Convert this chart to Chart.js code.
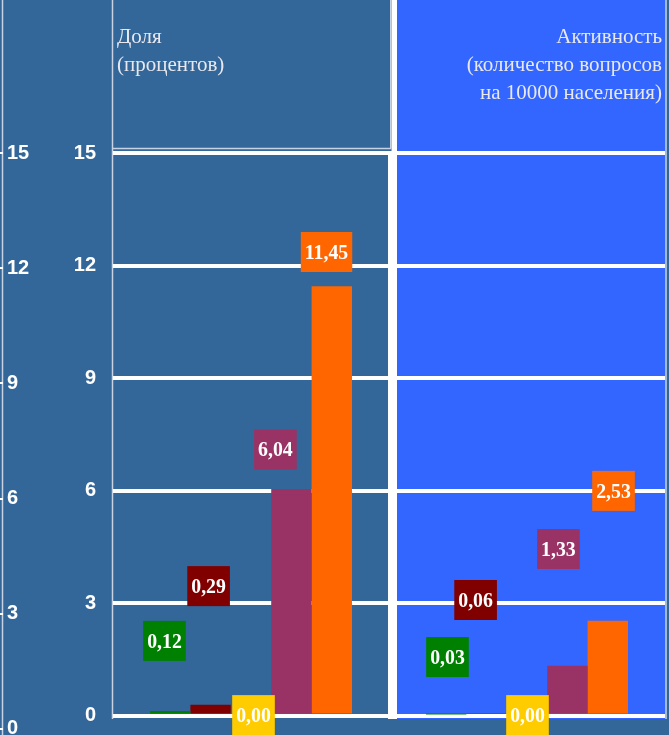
<!DOCTYPE html>
<html><head><meta charset="utf-8">
<script src="https://cdn.jsdelivr.net/npm/chart.js@4/dist/chart.umd.min.js"></script>
<style>html,body{margin:0;padding:0;background:#336699;overflow:hidden}#wrap{width:669px;height:735px}</style>
</head><body><div id="wrap"><canvas id="c" width="669" height="735"></canvas></div>
<script>
const categories = ['Доля', 'Активность'];
const seriesNames = ['Ряд 1', 'Ряд 2', 'Ряд 3', 'Ряд 4', 'Ряд 5'];
const series1 = [0.12, 0.03];
const series2 = [0.29, 0.06];
const series3 = [0.00, 0.00];
const series4 = [6.04, 1.33];
const series5 = [11.45, 2.53];
const yTicks = [0, 3, 6, 9, 12, 15];
const outerTicks = [0, 3, 6, 9, 12, 15];
const panelTitles = [['Доля', '(процентов)'], ['Активность', '(количество вопросов', 'на 10000 населения)']];

const seriesColors = ['#008000', '#800000', '#FFCC00', '#993366', '#FF6600'];
// value-label box placement: [x offset px from bar centre, centre height in axis units]
const labelPlacement = [
  [[-5.7, 1.99], [1.3, 1.56]],
  [[-2, 3.45], [-11, 3.08]],
  [[2.5, 0.01], [0.5, 0.01]],
  [[-16, 7.09], [-9, 4.44]],
  [[-5.3, 12.36], [5.7, 5.99]]
];

const fmt = v => v.toFixed(2).replace('.', ',');

const panelPlugin = {
  id: 'panels',
  beforeDraw(chart) {
    const ctx = chart.ctx, a = chart.chartArea, x = chart.scales.x;
    const mid = (x.getPixelForValue(0) + x.getPixelForValue(1)) / 2;
    const bottom = a.bottom + 3.5;
    ctx.save();
    ctx.fillStyle = '#336699';
    ctx.fillRect(0, 0, chart.width, chart.height);
    ctx.fillStyle = '#3366FF';
    ctx.fillRect(mid + 8, 0, a.right + 1 - (mid + 8), bottom);
    // divider
    ctx.fillStyle = '#FFFFFF';
    ctx.fillRect(mid - 1, a.top - 2, 9, bottom - a.top + 2);
    ctx.fillRect(mid + 2.5, 0, 5.5, a.top);
    // frame lines
    ctx.strokeStyle = '#C8D2E2';
    ctx.lineWidth = 1.5;
    ctx.beginPath();
    ctx.moveTo(a.left - 0.5, 0); ctx.lineTo(a.left - 0.5, bottom);
    ctx.moveTo(a.left, a.top - 4.5); ctx.lineTo(mid + 2, a.top - 4.5);
    ctx.moveTo(mid + 1.75, 0); ctx.lineTo(mid + 1.75, a.top - 4.5);
    ctx.moveTo(a.right + 1, 0); ctx.lineTo(a.right + 1, bottom);
    const o = chart.scales.yOuter;
    ctx.moveTo(o.right - 0.5, 0); ctx.lineTo(o.right - 0.5, chart.height);
    ctx.stroke();
    // titles
    ctx.fillStyle = '#E8E8EE';
    ctx.font = '21px "Liberation Serif"';
    ctx.textBaseline = 'alphabetic';
    const baselines = [42.5, 71, 99];
    ctx.textAlign = 'left';
    panelTitles[0].forEach((t, i) => ctx.fillText(t, a.left + 4, baselines[i]));
    ctx.textAlign = 'right';
    panelTitles[1].forEach((t, i) => ctx.fillText(t, a.right - 3, baselines[i]));
    ctx.restore();
  },
  afterDatasetsDraw(chart) {
    const ctx = chart.ctx, y = chart.scales.y;
    const sx = 0.9;
    ctx.save();
    ctx.font = 'bold 22px "Liberation Serif"';
    ctx.textAlign = 'center';
    ctx.textBaseline = 'middle';
    chart.data.datasets.forEach((ds, di) => {
      chart.getDatasetMeta(di).data.forEach((bar, i) => {
        const p = labelPlacement[di][i];
        const text = fmt(ds.data[i]);
        const w = ctx.measureText(text).width * sx + 8, h = 40;
        const cx = bar.x + p[0];
        const cy = y.getPixelForValue(p[1]);
        ctx.fillStyle = ds.backgroundColor;
        ctx.fillRect(cx - w / 2, cy - h / 2, w, h);
        ctx.fillStyle = '#FFFFFF';
        ctx.save();
        ctx.translate(cx, cy + 1);
        ctx.scale(sx, 1);
        ctx.fillText(text, 0, 0);
        ctx.restore();
      });
    });
    ctx.restore();
  }
};

const seriesValues = [series1, series2, series3, series4, series5];

new Chart(document.getElementById('c'), {
  type: 'bar',
  data: {
    labels: categories,
    datasets: seriesValues.map((d, i) => ({
      label: seriesNames[i],
      data: d,
      backgroundColor: seriesColors[i],
      borderWidth: 0,
      categoryPercentage: 0.732,
      barPercentage: 1.0
    }))
  },
  options: {
    responsive: false,
    animation: false,
    devicePixelRatio: 1,
    layout: { padding: { top: 153, bottom: 19.5, left: 0, right: 4 } },
    plugins: { legend: { display: false }, tooltip: { enabled: false } },
    scales: {
      x: { display: false, grid: { display: false } },
      y: {
        position: 'left', weight: 0, min: 0, max: 15,
        afterBuildTicks(s) { s.ticks = yTicks.map(v => ({ value: v })); },
        afterFit(s) { s.width = 110; s.paddingTop = 0; s.paddingBottom = 0; },
        grid: { color: '#FFFFFF', lineWidth: 4, drawTicks: false },
        border: { display: false },
        ticks: { color: '#FFFFFF', padding: 17, font: { family: '"Liberation Sans", Arial', size: 20, weight: 'bold' } }
      },
      yOuter: {
        position: 'left', weight: 1, min: 0.35, max: 15,
        afterBuildTicks(s) { s.ticks = outerTicks.map(v => ({ value: v })); },
        afterFit(s) { s.width = 3; s.paddingTop = 0; s.paddingBottom = 0; },
        grid: { drawOnChartArea: false, drawTicks: true, tickLength: 3, color: '#FFFFFF', lineWidth: 2 },
        border: { display: false },
        ticks: { mirror: true, padding: 4, color: '#FFFFFF', font: { family: '"Liberation Sans", Arial', size: 20, weight: 'bold' } }
      }
    }
  },
  plugins: [panelPlugin]
});
</script></body></html>
